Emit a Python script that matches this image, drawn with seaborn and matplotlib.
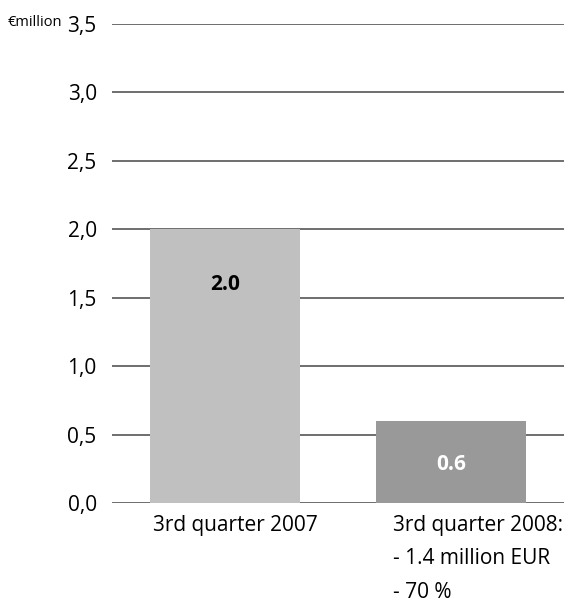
import matplotlib
matplotlib.use("Agg")
import matplotlib.pyplot as plt
import matplotlib.transforms as mtransforms
import seaborn as sns
import pandas as pd

categories = ["3rd quarter 2007", "3rd quarter 2008:\n- 1.4 million EUR\n- 70 %"]
values = [2.0, 0.6]
value_labels = ["2.0", "0.6"]
yticks = [0.0, 0.5, 1.0, 1.5, 2.0, 2.5, 3.0, 3.5]
ytick_labels = ["0,0", "0,5", "1,0", "1,5", "2,0", "2,5", "3,0", "3,5"]
bar_colors = ["#c0c0c0", "#999999"]
label_colors = ["#000000", "#ffffff"]

sns.set_theme(style="white")
plt.rcParams["font.family"] = ["Open Sans", "DejaVu Sans"]
plt.rcParams["text.color"] = "black"
plt.rcParams["xtick.color"] = "black"
plt.rcParams["ytick.color"] = "black"

fig = plt.figure(figsize=(5.68, 6.06), dpi=100)
ax = fig.add_axes([112/568, 103/606, 452/568, 479/606])

df = pd.DataFrame({"cat": categories, "val": values})
sns.barplot(data=df, x="cat", y="val", hue="cat", palette=bar_colors,
            width=0.664, legend=False, ax=ax, zorder=3, saturation=1,
            linewidth=0, edgecolor="none")

for y in yticks:
    ax.axhline(y, color="#555555", lw=1.2, zorder=1)

ax.set_xlim(-0.5, 1.5)
ax.set_ylim(0, 3.5)
ax.set_yticks(yticks)
ax.set_yticklabels(ytick_labels, fontsize=15, color="black")
ax.set_xlabel("")
ax.set_ylabel("")
ax.tick_params(axis="both", length=0, labelcolor="black")
ax.tick_params(axis="y", pad=11)
ax.tick_params(axis="x", pad=9)
for s in ax.spines.values():
    s.set_visible(False)

offsets = [10, 27]
for lab, off in zip(ax.get_xticklabels(), offsets):
    lab.set_fontsize(15)
    lab.set_color("black")
    lab.set_multialignment("left")
    lab.set_linespacing(1.75)
    lab.set_transform(lab.get_transform() + mtransforms.ScaledTranslation(off/100, 0, fig.dpi_scale_trans))

label_y = [1.6, 0.28]
for i, (t, c) in enumerate(zip(value_labels, label_colors)):
    ax.text(i, label_y[i], t, ha="center", va="center", fontsize=15,
            fontweight="bold", color=c, zorder=4)

fig.text(8/568, 1 - 22/606, "€million", fontsize=10.5, ha="left", va="center", color="black")

fig.savefig("out.png", dpi=100)
